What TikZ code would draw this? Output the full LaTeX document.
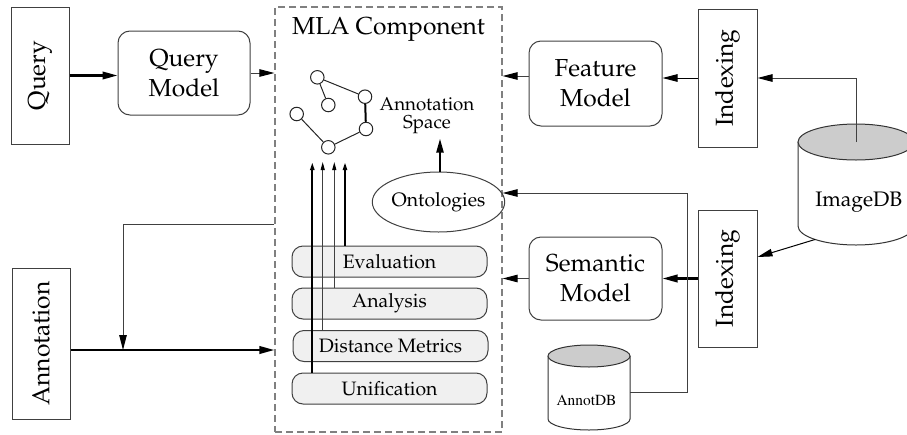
\documentclass[tikz,border=0pt]{standalone}
\usepackage[T1]{fontenc}
\usepackage{mathpazo}
\usepackage{graphicx}
\usetikzlibrary{arrows.meta,shapes.geometric}

\begin{document}
\begin{tikzpicture}[x=1pt,y=-1pt,
  >={Triangle[length=15pt,width=7.5pt,color=black]},
  frame/.style={draw=black!75,line width=1pt,inner sep=0pt},
  bigfont/.style={font=\fontsize{24.6}{30}\selectfont},
  midfont/.style={font=\fontsize{19.4}{22}\selectfont},
  plainbox/.style={frame,bigfont},
  modelbox/.style={frame,bigfont,rounded corners=12pt,align=center,
    minimum width=133pt,minimum height=85pt},
  layer/.style={frame,midfont,fill=black!6,rounded corners=11pt,
    minimum width=195pt,minimum height=31pt},
  thinarrow/.style={draw=black!75,line width=1pt,->},
  thickarrow/.style={draw=black,line width=2.2pt,->},
  uparrow/.style={line width=#1,-{Triangle[length=8pt,width=4pt,color=black]}},
  gnode/.style={circle,draw=black!85,line width=1pt,fill=white,
    minimum size=13.5pt,inner sep=0pt},
  gedge/.style={draw=black!85,line width=1pt},
  dbshape/.style={draw=black!80,line width=1pt},
]
\useasboundingbox (0,0) rectangle (907,434);

% --- MLA component frame ---
\node[draw=black!50,line width=1.2pt,dash pattern=on 7pt off 4pt,
      minimum width=227pt,minimum height=425pt,inner sep=0pt] (mla) at (388.5,219.5) {};
\node[bigfont,anchor=base] (mlatitle) at (388.5,34.5) {MLA Component};

% --- left side ---
\node[plainbox,minimum width=58pt,minimum height=137pt] (query) at (40,75.5) {\rotatebox{90}{Query}};
\node[modelbox,minimum width=132pt,minimum height=84pt] (qm) at (184,73) {Query\\Model};
\node[plainbox,minimum width=58pt,minimum height=151pt] (ann) at (41,343.5) {\rotatebox{90}{Annotation}};

% --- right side ---
\node[modelbox] (fm) at (595.5,83.5) {Feature\\Model};
\node[modelbox,minimum height=83pt] (sm) at (595.5,278.5) {Semantic\\Model};
\node[plainbox,minimum width=59pt,minimum height=138pt] (idx1) at (727.5,78) {\rotatebox{90}{Indexing}};
\node[plainbox,minimum width=59pt,minimum height=137pt] (idx2) at (727.5,278.5) {\rotatebox{90}{Indexing}};

% ImageDB cylinder
\path[dbshape,fill=white] (798,142) -- (798,226)
   arc[start angle=180,end angle=0,x radius=58,y radius=19] -- (914,142);
\draw[dbshape,fill=black!20] (856,142) ellipse[x radius=58,y radius=18];
\node[font=\fontsize{21}{24}\selectfont,anchor=base] (imgdb) at (858.8,206.7) {ImageDB};
\coordinate (imgtop) at (856,142);
\coordinate (imgbl) at (815,239.5);

% AnnotDB cylinder
\path[dbshape,fill=white] (548,356) -- (548,419)
   arc[start angle=180,end angle=0,x radius=41,y radius=11] -- (630,356);
\draw[dbshape,fill=black!20] (589,356) ellipse[x radius=41,y radius=11];
\node[font=\fontfamily{ptm}\fontsize{15.4}{18}\selectfont,anchor=base] (adb) at (586.5,405) {AnnotDB};
\coordinate (adbr) at (630,392);
\coordinate (bend) at (687,193);

% --- inside the MLA component ---
\node[layer] (eval) at (389.5,261.5) {Evaluation};
\node[layer] (anal) at (389.5,303.5) {Analysis};
\node[layer] (dist) at (390.5,346) {Distance Metrics};
\node[layer] (unif) at (389.5,388.5) {Unification};

\node[draw=black!75,line width=1pt,ellipse,minimum width=117pt,minimum height=60pt,
      inner sep=0pt,midfont] (ont) at (438.5,202) {Ontologies};
\node[font=\fontsize{18.7}{18}\selectfont,align=center] (aspace) at (427,116) {Annotation\\Space};

% annotation space graph
\node[gnode] (g1) at (317.3,77.3) {};
\node[gnode] (g2) at (328.3,105) {};
\node[gnode] (g3) at (365,96.7) {};
\node[gnode] (g4) at (296.7,114) {};
\node[gnode] (g5) at (366,129) {};
\node[gnode] (g6) at (328.3,147.3) {};
\draw[gedge] (g1) -- (g2);
\draw[gedge] (g1) -- (g3);
\draw[draw=black,line width=2pt] (g3) -- (g5);
\draw[gedge] (g5) -- (g6);
\draw[gedge] (g6) -- (g4);

% layers feeding the annotation space
\coordinate (tipA) at (312.3,162);
\coordinate (tipB) at (322.7,162);
\coordinate (tipC) at (334.3,162);
\coordinate (tipD) at (345,162);
\draw[uparrow=2pt,draw=black] (unif.north -| tipA) -- (tipA);
\draw[uparrow=1pt,draw=black!75] (dist.north -| tipB) -- (tipB);
\draw[uparrow=1pt,draw=black!75] (anal.north -| tipC) -- (tipC);
\draw[uparrow=2pt,draw=black] (eval.north -| tipD) -- (tipD);

\draw[draw=black,line width=2.2pt,-{Triangle[length=14pt,width=7pt]}]
  ([xshift=1.5pt]ont.north) -- ++(0,-33);

% --- connectors ---
\draw[thickarrow] (query.east) -- (query.east -| qm.west);
\draw[thinarrow] (qm.east) -- (qm.east -| mla.west);

\coordinate (fmout) at ([yshift=7.5pt]fm.west);
\draw[thinarrow] (fmout) -- (fmout -| mla.east);
\draw[thinarrow,draw=black] (idx1.west) -- (idx1.west -| fm.east);
\draw[thinarrow] (imgtop) |- (idx1.east);

\coordinate (idx2in) at ([yshift=21.5pt]idx2.east);
\draw[thinarrow,draw=black] (imgbl) -- (idx2in);
\draw[thickarrow] (idx2.west) -- (idx2.west -| sm.east);
\draw[thinarrow] (sm.west) -- (sm.west -| mla.east);

\draw[thinarrow] (adbr) -| (bend) -- (bend -| mla.east);

\coordinate (annout) at ([yshift=-6.5pt]ann.east);
\draw[thickarrow] (annout) -- (annout -| mla.west);
\coordinate (fb) at (123,224);
\draw[thinarrow] (fb -| mla.west) -- (fb) -- (fb |- annout);

\end{tikzpicture}
\end{document}
